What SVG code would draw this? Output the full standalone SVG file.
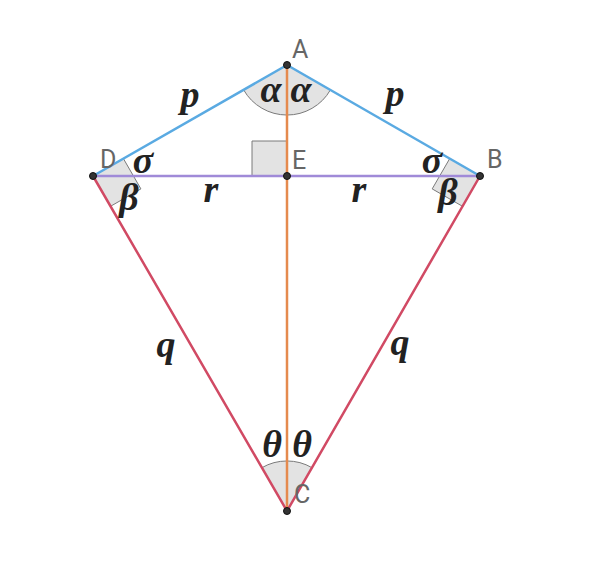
<svg xmlns="http://www.w3.org/2000/svg" width="602" height="565" viewBox="0 0 602 565">
<style>
.mark{fill:#e3e3e3;stroke:#7a7a7a;stroke-width:1}
.seg{stroke-width:2.5;stroke-linecap:round;fill:none}
.pt{fill:#333;stroke:#111;stroke-width:1}
.lbl{font-family:Roboto,"Liberation Sans",sans-serif;font-size:25px;fill:#666}
.gr{font-family:"Liberation Serif",serif;font-style:italic;font-weight:bold;font-size:38px;fill:#222;text-anchor:middle}
</style>
<rect width="602" height="565" fill="#fff"/>
<g id="marks">
<path class="mark" d="M287,65 L243.6,89.8 A50,50 0 0 0 330.4,89.9 Z"/>
<path class="mark" d="M287,511 L261.9,467.7 A50,50 0 0 1 312,467.7 Z"/>
<path class="mark" d="M93,176 L123.4,158.6 L140.9,188.9 L110.5,206.3 Z"/>
<path class="mark" d="M480,176 L449.7,158.6 L432.2,188.9 L462.5,206.3 Z"/>
<path class="mark" d="M287,176 L252,176 L252,141 L287,141 Z"/>
</g>
<g id="connectors">
<line class="seg" x1="93" y1="176" x2="480" y2="176" stroke="#a08ad8"/>
<line class="seg" x1="287" y1="65" x2="287" y2="511" stroke="#e58a4e"/>
<line class="seg" x1="287" y1="65" x2="93" y2="176" stroke="#5aaae2"/>
<line class="seg" x1="287" y1="65" x2="480" y2="176" stroke="#5aaae2"/>
<line class="seg" x1="93" y1="176" x2="287" y2="511" stroke="#d14a64"/>
<line class="seg" x1="480" y1="176" x2="287" y2="511" stroke="#d14a64"/>
</g>
<g id="A"><circle class="pt" cx="287" cy="65" r="3.5"/><text class="lbl" x="292" y="58">A</text></g>
<g id="B"><circle class="pt" cx="480" cy="176" r="3.5"/><text class="lbl" x="487" y="168">B</text></g>
<g id="C"><circle class="pt" cx="287" cy="511" r="3.5"/><text class="lbl" x="294" y="503">C</text></g>
<g id="D"><circle class="pt" cx="93" cy="176" r="3.5"/><text class="lbl" x="100" y="168">D</text></g>
<g id="E"><circle class="pt" cx="287" cy="176" r="3.5"/><text class="lbl" x="292" y="169">E</text></g>
<g id="labels">
<text class="gr" x="190" y="107">p</text>
<text class="gr" x="395" y="106">p</text>
<text class="gr" x="271" y="102">α</text>
<text class="gr" x="301" y="102">α</text>
<text class="gr" x="143" y="173">σ</text>
<text class="gr" x="129" y="210">β</text>
<text class="gr" x="211" y="202">r</text>
<text class="gr" x="359" y="202">r</text>
<text class="gr" x="432" y="173">σ</text>
<text class="gr" x="448" y="205">β</text>
<text class="gr" x="166" y="357">q</text>
<text class="gr" x="400" y="355">q</text>
<text class="gr" x="272" y="457">θ</text>
<text class="gr" x="302" y="457">θ</text>
</g>
</svg>
